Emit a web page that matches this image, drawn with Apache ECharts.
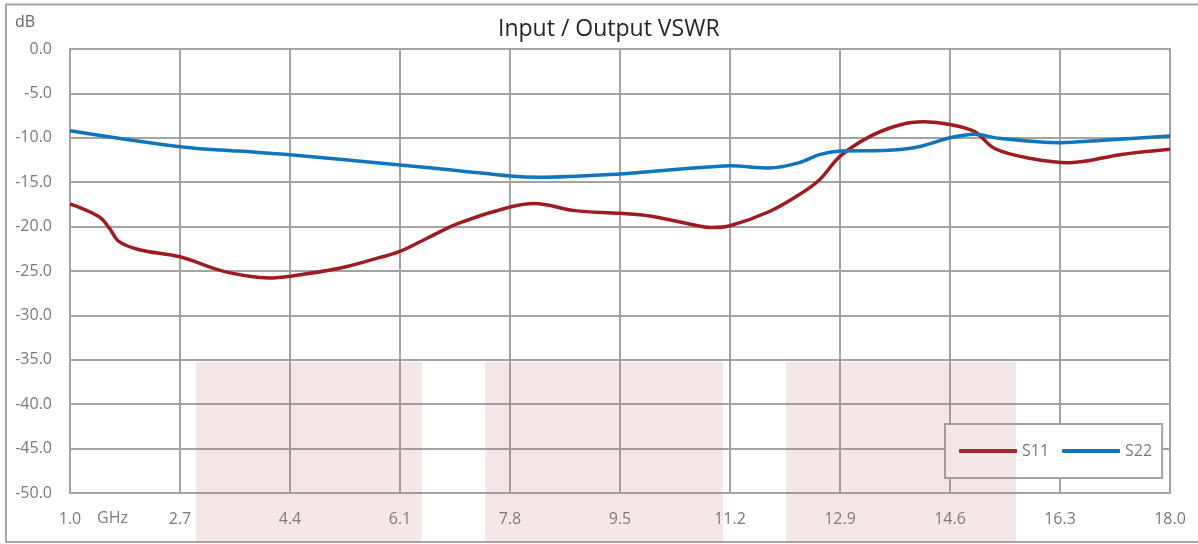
<!DOCTYPE html>
<html><head><meta charset="utf-8">
<script src="https://cdn.jsdelivr.net/npm/echarts@6/dist/echarts.min.js"></script>
<style>html,body{margin:0;padding:0;background:#fff}#c{width:1198px;height:544px}</style>
</head><body><div id="c"></div>
<script>
// Frequencies in GHz, values in dB
const s11Freq = [1.0, 1.45, 1.61, 1.76, 2.07, 2.7, 3.31, 3.77, 4.08, 4.4, 5.16, 5.78, 6.1, 6.55, 7.01, 7.8, 8.18, 8.8, 9.5, 9.96, 10.57, 10.91, 11.2, 11.81, 12.27, 12.58, 12.9, 13.35, 13.82, 14.2, 14.6, 14.98, 15.29, 15.83, 16.45, 17.23, 18.0];
const s11Db   = [-17.45, -18.9, -20.2, -21.7, -22.6, -23.4, -24.9, -25.6, -25.8, -25.6, -24.7, -23.5, -22.8, -21.2, -19.6, -17.8, -17.4, -18.2, -18.5, -18.8, -19.7, -20.1, -19.9, -18.3, -16.4, -14.75, -12.1, -9.9, -8.56, -8.2, -8.5, -9.3, -11.2, -12.3, -12.8, -11.9, -11.3];
const s22Freq = [1.0, 2.7, 3.62, 4.4, 6.1, 7.01, 7.8, 8.26, 9.5, 10.12, 11.04, 11.2, 11.81, 12.27, 12.58, 12.9, 13.66, 14.12, 14.6, 14.98, 15.36, 16.3, 16.92, 18.0];
const s22Db   = [-9.2, -11.0, -11.5, -11.9, -13.06, -13.7, -14.3, -14.45, -14.08, -13.7, -13.2, -13.15, -13.4, -12.8, -11.9, -11.5, -11.4, -11.0, -10.0, -9.6, -10.06, -10.55, -10.3, -9.8];
const seriesNames = ['S11', 'S22'];
const xStart = 1.0, xEnd = 18.0, xStep = 1.7;   // GHz tick labels: 1.0, 2.7, ... 18.0
const yMin = -50, yMax = 0, yStep = 5;
const titleText = 'Input / Output VSWR';
const yUnit = 'dB', xUnit = 'GHz';

const gridColor = '#a3a3a3';
const labelColor = '#7a7a7a';
const font = "'Open Sans', 'Liberation Sans', sans-serif";

const chart = echarts.init(document.getElementById('c'), null, {renderer: 'canvas'});
const pair = (fs, vs) => fs.map((f, i) => [+(f - xStart).toFixed(4), vs[i]]);

const pink = 'rgba(190,110,120,0.17)';
chart.setOption({
  animation: false,
  backgroundColor: '#fff',
  title: {text: titleText, left: 493, top: 13,
    textStyle: {fontFamily: font, fontSize: 23, fontWeight: 'normal', color: '#262626'}},
  grid: {left: 70, right: 28, top: 49, bottom: 51, show: true, borderColor: gridColor, borderWidth: 2},
  xAxis: {type: 'value', min: 0, max: xEnd - xStart, interval: xStep,
    axisLine: {show: true, lineStyle: {color: gridColor, width: 2}},
    axisTick: {show: false},
    splitLine: {show: true, lineStyle: {color: gridColor, width: 2}},
    axisLabel: {margin: 18, fontFamily: font, fontSize: 16, color: labelColor,
      formatter: v => (v + xStart).toFixed(1)}},
  yAxis: {type: 'value', min: yMin, max: yMax, interval: yStep,
    axisLine: {show: true, lineStyle: {color: gridColor, width: 2}},
    axisTick: {show: false},
    splitLine: {show: true, lineStyle: {color: gridColor, width: 2}},
    axisLabel: {margin: 18, fontFamily: font, fontSize: 16, color: labelColor,
      formatter: v => v.toFixed(1)}},
  legend: {left: 945, top: 424, orient: 'horizontal',
    padding: [19, 10, 19, 14], itemGap: 13, itemWidth: 58, itemHeight: 4,
    icon: 'roundRect',
    backgroundColor: '#fff', borderColor: gridColor, borderWidth: 2,
    textStyle: {fontFamily: font, fontSize: 16, color: labelColor},
    data: seriesNames},
  series: [
    {name: seriesNames[0], type: 'line', data: pair(s11Freq, s11Db), smooth: 0.35,
     showSymbol: false, symbol: 'none', color: '#9e1b20', lineStyle: {width: 3.5, color: '#9e1b20'}},
    {name: seriesNames[1], type: 'line', data: pair(s22Freq, s22Db), smooth: 0.35,
     showSymbol: false, symbol: 'none', color: '#0f75bd', lineStyle: {width: 3.5, color: '#0f75bd'}}
  ],
  graphic: [
    {type: 'rect', silent: true, z: -10, shape: {x: 6, y: 4.5, width: 1200, height: 537.5},
     style: {fill: 'none', stroke: '#a8a8a8', lineWidth: 2}},
    {type: 'text', silent: true, left: 15, top: 14, style: {text: yUnit, font: '16px ' + font, fill: '#666'}},
    {type: 'text', silent: true, left: 97, top: 510, style: {text: xUnit, font: '16px ' + font, fill: labelColor}},
    {type: 'rect', silent: true, z: 100, shape: {x: 196, y: 362, width: 226, height: 180}, style: {fill: pink}},
    {type: 'rect', silent: true, z: 100, shape: {x: 485, y: 362, width: 238, height: 180}, style: {fill: pink}},
    {type: 'rect', silent: true, z: 100, shape: {x: 786, y: 362, width: 230, height: 180}, style: {fill: pink}}
  ]
});
</script></body></html>
